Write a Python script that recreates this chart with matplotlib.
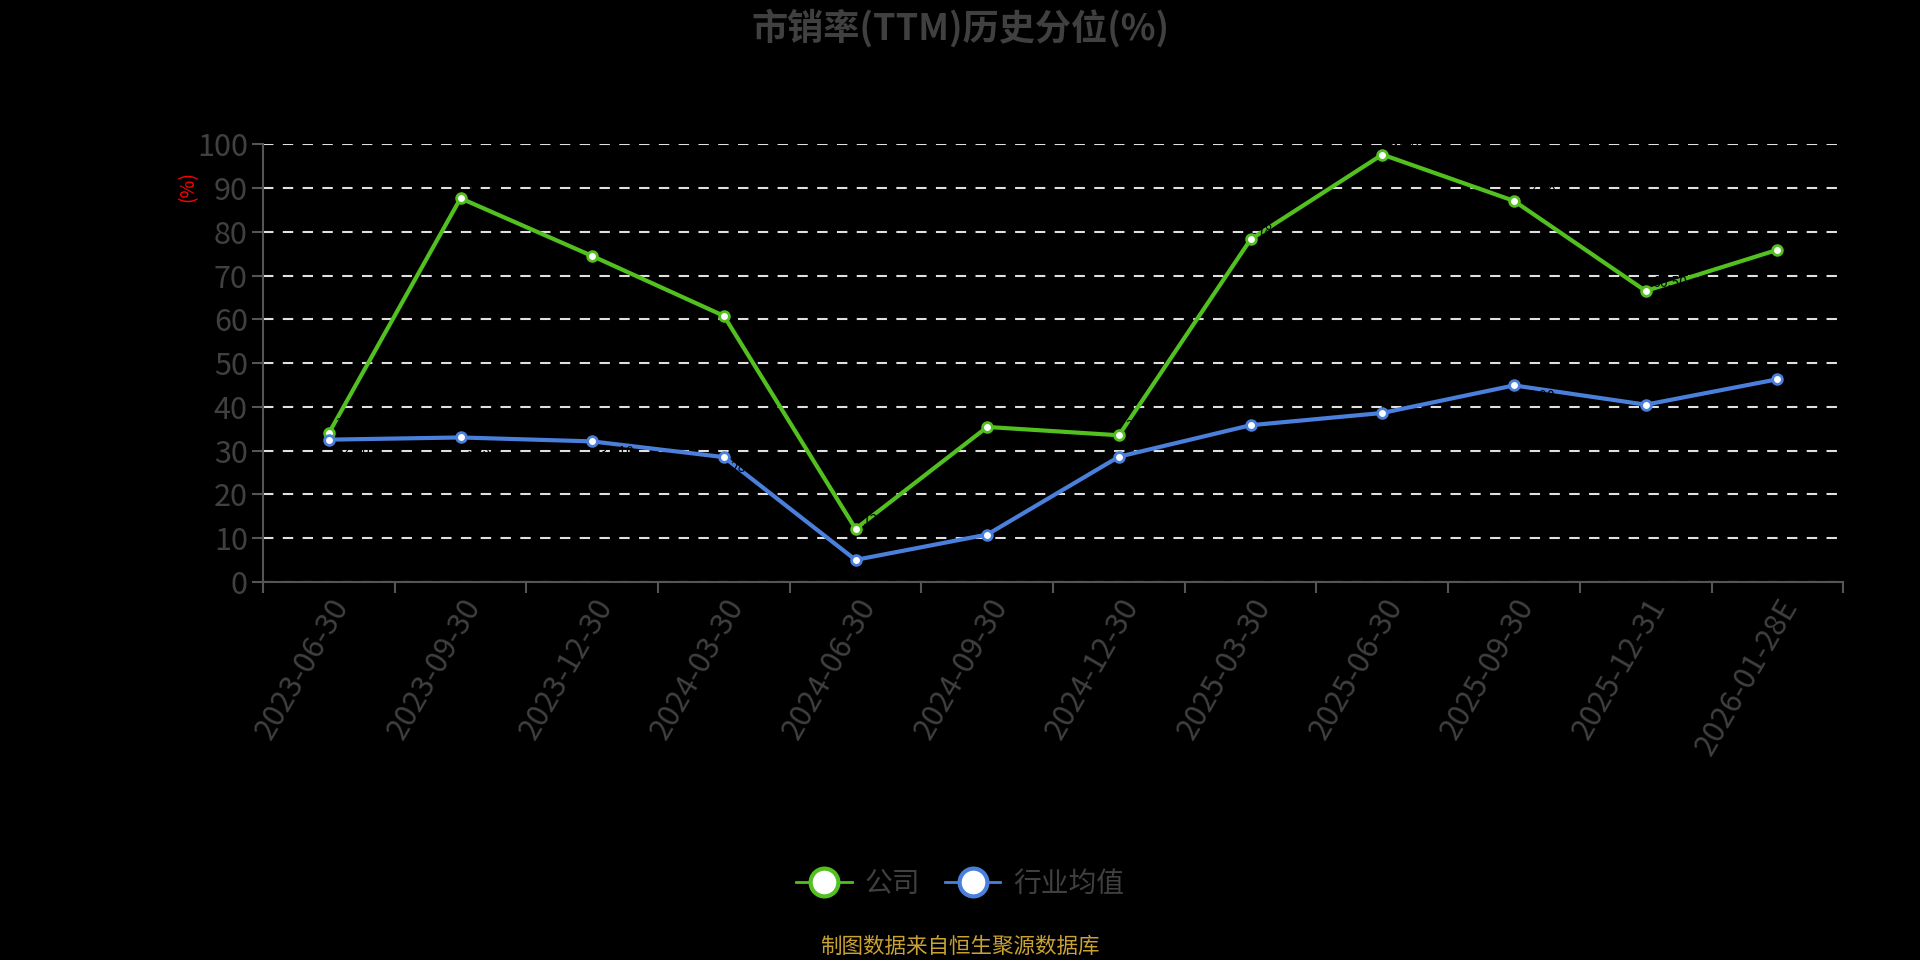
import numpy as np
import matplotlib.pyplot as plt
from matplotlib.lines import Line2D

plt.rcParams['font.family'] = ['Noto Sans CJK SC', 'DejaVu Sans']

# Data
dates = ["2023-06-30", "2023-09-30", "2023-12-30", "2024-03-30", "2024-06-30", "2024-09-30",
         "2024-12-30", "2025-03-30", "2025-06-30", "2025-09-30", "2025-12-31", "2026-01-28E"]
company = [34.0, 87.7, 74.5, 60.8, 12.1, 35.4, 33.5, 78.3, 97.7, 87.1, 66.5, 75.9]
industry = [32.5, 33.0, 32.1, 28.5, 5.0, 10.8, 28.6, 35.8, 38.6, 44.9, 40.5, 46.3]
series_names = ["公司", "行业均值"]

green = "#52c01f"
blue = "#4a7fdc"
gray = "#404040"

fig = plt.figure(figsize=(19.2, 9.6), dpi=100, facecolor="black")
ax = fig.add_axes([0.137, 0.394, 0.823, 0.4555], facecolor="black")

x = np.arange(len(dates))

ax.plot(x, company, color=green, lw=3, marker="o", ms=7, mfc="white", mec=green, mew=2, zorder=3)
ax.plot(x, industry, color=blue, lw=3, marker="o", ms=7, mfc="white", mec=blue, mew=2, zorder=3)

# value labels are drawn in black in the original, hardly visible
for i in range(len(dates)):
    ax.annotate(f"{company[i]:.2f}", (x[i], company[i]), xytext=(5, 3), textcoords="offset points",
                color="black", fontsize=10, zorder=4)
    ax.annotate(f"{industry[i]:.2f}", (x[i], industry[i]), xytext=(5, -3), textcoords="offset points",
                color="black", fontsize=10, va="top", zorder=4)

ax.set_xlim(-0.5, len(dates) - 0.5)
ax.set_ylim(0, 100)
ax.set_yticks(np.arange(0, 101, 10))
ax.set_xticks(x)
ax.set_xticklabels(dates, rotation=60, ha="right", rotation_mode="anchor")
ax.set_xticks(np.arange(-0.5, len(dates), 1), minor=True)

ax.grid(axis="y", color="#e0e0e0", linestyle=(0, (5, 4.5)), lw=1.5)
ax.set_axisbelow(True)

for s in ["top", "right"]:
    ax.spines[s].set_visible(False)
for s in ["left", "bottom"]:
    ax.spines[s].set_color("#555555")
    ax.spines[s].set_linewidth(1.5)

ax.tick_params(axis="y", colors=gray, labelsize=22, length=8, width=1.5, color="#555555", pad=3)
ax.tick_params(axis="x", which="major", length=0, labelsize=22, colors=gray, pad=8)
ax.tick_params(axis="x", which="minor", length=8, width=1.5, color="#555555")
for lab in ax.get_yticklabels() + ax.get_xticklabels():
    lab.set_color(gray)

fig.text(0.098, 0.806, "(%)", color="red", fontsize=14, rotation=90, ha="center", va="center")

fig.text(0.5, 0.971, "市销率(TTM)历史分位(%)", color=gray, fontsize=26, fontweight="bold",
         ha="center", va="center")

handles = [
    Line2D([], [], color=green, lw=2, marker="o", ms=20, mfc="white", mec=green, mew=3),
    Line2D([], [], color=blue, lw=2, marker="o", ms=20, mfc="white", mec=blue, mew=3),
]
leg = fig.legend(handles, series_names, loc="center", bbox_to_anchor=(0.5, 0.079), ncol=2,
                 frameon=False, fontsize=20, handlelength=2.0, columnspacing=0.9, handletextpad=0.45)
for t in leg.get_texts():
    t.set_color(gray)

fig.text(0.5, 0.014, "制图数据来自恒生聚源数据库", color="#c9a233", fontsize=15.5, ha="center", va="center")

fig.savefig("out.png", dpi=100, facecolor="black")
